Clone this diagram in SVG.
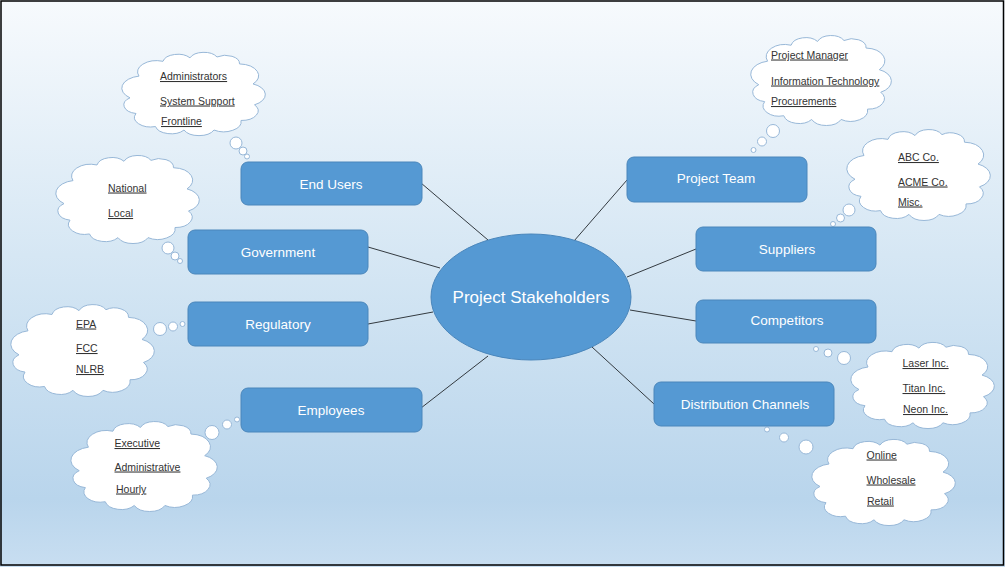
<svg xmlns="http://www.w3.org/2000/svg" xmlns:xlink="http://www.w3.org/1999/xlink" width="1005" height="567" viewBox="0 0 1005 567">
<style>
.box{fill:#5599d3;stroke:#4a86bb;stroke-width:1}
.lbl{font-family:"Liberation Sans","Open Sans",Arial,sans-serif;font-size:13.5px;fill:#ffffff;text-anchor:middle}
.ctr{font-family:"Liberation Sans","Open Sans",Arial,sans-serif;font-size:17px;fill:#ffffff;text-anchor:middle}
.ct{font-family:"Liberation Sans","Open Sans",Arial,sans-serif;font-size:10.5px;fill:#333333;text-decoration:underline}
.cl{fill:#ffffff;stroke:#98b8d8;stroke-width:1;vector-effect:non-scaling-stroke}
.conn line{stroke:#333a40;stroke-width:1}
</style>
<defs>
<linearGradient id="bg" x1="0" y1="0" x2="0" y2="1">
<stop offset="0" stop-color="#f7fafd"/>
<stop offset="0.45" stop-color="#d6e7f4"/>
<stop offset="0.88" stop-color="#b9d5ec"/>
<stop offset="1" stop-color="#c8def1"/>
</linearGradient>
<path id="cloud" class="cl" d="M8,55 A14.1,14.1 0 0 1 14,30 A12.8,12.8 0 0 1 30,13 A10.1,10.1 0 0 1 48,9 A9.9,9.9 0 0 1 66,8 A9.4,9.4 0 0 1 81,16 A13.6,13.6 0 0 1 90,39 A13.2,13.2 0 0 1 91,63 A11.1,11.1 0 0 1 82,81 A11.6,11.6 0 0 1 64,92 A11,11 0 0 1 44,92 A10.7,10.7 0 0 1 25,88 A10.9,10.9 0 0 1 12,73 A10.1,10.1 0 0 1 8,55 Z"/>
</defs>
<rect x="0" y="0" width="1005" height="567" fill="url(#bg)"/>
<rect x="1" y="1" width="1002.5" height="564" fill="none" stroke="#000000" stroke-width="1.5"/>

<g id="connectors" class="conn">
<line x1="421" y1="183" x2="488" y2="240"/>
<line x1="368" y1="247" x2="440" y2="268"/>
<line x1="368" y1="324" x2="433" y2="312"/>
<line x1="421" y1="408" x2="488" y2="356"/>
<line x1="627" y1="180" x2="574" y2="241"/>
<line x1="696" y1="249" x2="627" y2="277"/>
<line x1="696" y1="321" x2="630" y2="310"/>
<line x1="654" y1="404" x2="592" y2="347"/>
</g>

<g id="cloud-endusers">
<use xlink:href="#cloud" transform="translate(118,50) scale(1.5,0.87)"/>
<circle class="cl" cx="236" cy="143" r="6"/>
<circle class="cl" cx="243" cy="151" r="4"/>
<circle class="cl" cx="247" cy="156.5" r="2.5"/>
<text class="ct" x="160" y="80">Administrators</text>
<text class="ct" x="160" y="104.5">System Support</text>
<text class="ct" x="161" y="125">Frontline</text>
</g>

<g id="cloud-government">
<use xlink:href="#cloud" transform="translate(52,153) scale(1.5,0.92)"/>
<circle class="cl" cx="168" cy="248" r="6"/>
<circle class="cl" cx="175" cy="256" r="4"/>
<circle class="cl" cx="180" cy="261" r="2.5"/>
<text class="ct" x="108" y="191.5">National</text>
<text class="ct" x="108" y="217">Local</text>
</g>

<g id="cloud-regulatory">
<use xlink:href="#cloud" transform="translate(7,302) scale(1.5,0.96)"/>
<circle class="cl" cx="160" cy="329" r="6.5"/>
<circle class="cl" cx="173" cy="326.5" r="4.5"/>
<circle class="cl" cx="182.5" cy="324" r="2.5"/>
<text class="ct" x="76" y="327.5">EPA</text>
<text class="ct" x="76" y="352">FCC</text>
<text class="ct" x="76" y="373">NLRB</text>
</g>

<g id="cloud-employees">
<use xlink:href="#cloud" transform="translate(67,419) scale(1.53,0.94)"/>
<circle class="cl" cx="212" cy="432.5" r="7"/>
<circle class="cl" cx="227" cy="424.5" r="4.5"/>
<circle class="cl" cx="237" cy="419.5" r="2.5"/>
<text class="ct" x="114.5" y="447">Executive</text>
<text class="ct" x="114.5" y="470.5">Administrative</text>
<text class="ct" x="116" y="492.5">Hourly</text>
</g>

<g id="cloud-projectteam">
<use xlink:href="#cloud" transform="translate(747,33) scale(1.47,0.94)"/>
<circle class="cl" cx="773" cy="131" r="6.5"/>
<circle class="cl" cx="762" cy="141.5" r="4.5"/>
<circle class="cl" cx="753.5" cy="150" r="2.5"/>
<text class="ct" x="771" y="58.5">Project Manager</text>
<text class="ct" x="771" y="84.5">Information Technology</text>
<text class="ct" x="771" y="105">Procurements</text>
</g>

<g id="cloud-suppliers">
<use xlink:href="#cloud" transform="translate(843,127) scale(1.5,0.95)"/>
<circle class="cl" cx="849" cy="210" r="6"/>
<circle class="cl" cx="840.5" cy="218" r="4"/>
<circle class="cl" cx="833" cy="224" r="2.5"/>
<text class="ct" x="898" y="161">ABC Co.</text>
<text class="ct" x="898" y="185.5">ACME Co.</text>
<text class="ct" x="898" y="205.5">Misc.</text>
</g>

<g id="cloud-competitors">
<use xlink:href="#cloud" transform="translate(847,340) scale(1.5,0.9)"/>
<circle class="cl" cx="844" cy="358" r="6.5"/>
<circle class="cl" cx="828" cy="353" r="4"/>
<circle class="cl" cx="816" cy="349" r="2.5"/>
<text class="ct" x="902.5" y="367">Laser Inc.</text>
<text class="ct" x="902.5" y="392">Titan Inc.</text>
<text class="ct" x="903" y="413">Neon Inc.</text>
</g>

<g id="cloud-distribution">
<use xlink:href="#cloud" transform="translate(808,437) scale(1.5,0.9)"/>
<circle class="cl" cx="806" cy="447" r="7"/>
<circle class="cl" cx="784" cy="437.5" r="4.5"/>
<circle class="cl" cx="767" cy="429.5" r="2.5"/>
<text class="ct" x="866.5" y="458.5">Online</text>
<text class="ct" x="866.5" y="483.5">Wholesale</text>
<text class="ct" x="867" y="504.5">Retail</text>
</g>

<g id="node-center">
<ellipse cx="531" cy="297" rx="100" ry="63" class="box"/>
<text class="ctr" x="531" y="303">Project Stakeholders</text>
</g>
<g id="node-endusers">
<rect class="box" x="241" y="162" width="181" height="43" rx="7"/>
<text class="lbl" x="331" y="188.5">End Users</text>
</g>
<g id="node-government">
<rect class="box" x="188" y="230" width="180" height="44" rx="7"/>
<text class="lbl" x="278" y="257">Government</text>
</g>
<g id="node-regulatory">
<rect class="box" x="188" y="302" width="180" height="44" rx="7"/>
<text class="lbl" x="278" y="329">Regulatory</text>
</g>
<g id="node-employees">
<rect class="box" x="241" y="388" width="181" height="44" rx="7"/>
<text class="lbl" x="331" y="415">Employees</text>
</g>
<g id="node-projectteam">
<rect class="box" x="627" y="157" width="180" height="45" rx="7"/>
<text class="lbl" x="716" y="183">Project Team</text>
</g>
<g id="node-suppliers">
<rect class="box" x="696" y="227" width="180" height="44" rx="7"/>
<text class="lbl" x="787" y="254">Suppliers</text>
</g>
<g id="node-competitors">
<rect class="box" x="696" y="300" width="180" height="43" rx="7"/>
<text class="lbl" x="787" y="325">Competitors</text>
</g>
<g id="node-distribution">
<rect class="box" x="654" y="382" width="180" height="44" rx="7"/>
<text class="lbl" x="745" y="409">Distribution Channels</text>
</g>
</svg>
